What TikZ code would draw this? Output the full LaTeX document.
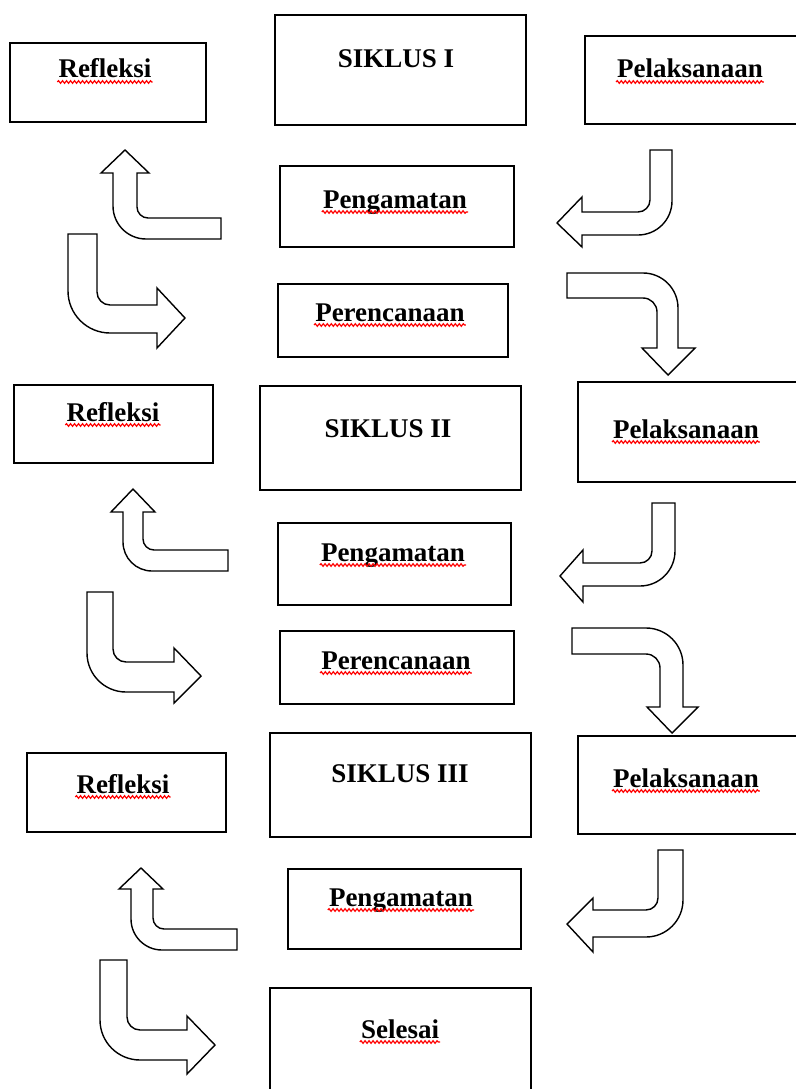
\documentclass[tikz,border=0pt]{standalone}
\usepackage{fontspec}
\setmainfont{Liberation Serif}
\usetikzlibrary{fit,decorations.pathmorphing}
\tikzset{
  box/.style={draw, line width=1.5pt, inner sep=0pt},
  arr/.style={draw, fill=white, line width=1.4pt, line join=miter},
  lbl/.style={font=\fontsize{27}{32}\selectfont\bfseries, inner sep=0pt},
  squig/.style={red, line width=1.2pt, decorate, decoration={snake, segment length=4pt, amplitude=1.3pt}}
}
\newcommand\arrU[9]{% xr yi yo xi xo yb hl hr tip
 \pgfmathsetmacro\rI{11}\pgfmathsetmacro\rO{\rI+#4-#5-2}
 \draw[arr] (#1,#2) -- (#4+\rI,#2) .. controls (#4+0.448*\rI,#2) and (#4,#2-0.448*\rI) .. (#4,#2-\rI) -- (#4,#6) -- (#8,#6) -- (#9) -- (#7,#6) -- (#5,#6) -- (#5,#3-\rO) .. controls (#5,#3-0.448*\rO) and (#5+0.448*\rO,#3) .. (#5+\rO,#3) -- (#1,#3) -- cycle;}
\newcommand\arrL[9]{% yt0 xo xi yi yo xb ht hb tip
 \pgfmathsetmacro\rI{12}\pgfmathsetmacro\rO{\rI+#2-#3}
 \draw[arr] (#3,#1) -- (#2,#1) -- (#2,#5-\rO) .. controls (#2,#5-0.448*\rO) and (#2-0.448*\rO,#5) .. (#2-\rO,#5) -- (#6,#5) -- (#6,#8) -- (#9) -- (#6,#7) -- (#6,#4) -- (#3-\rI,#4) .. controls (#3-0.448*\rI,#4) and (#3,#4-0.448*\rI) .. (#3,#4-\rI) -- cycle;}
\newcommand\arrR[9]{% yt0 xo xi yi yo xb ht hb tip
 \pgfmathsetmacro\rI{13}\pgfmathsetmacro\rO{\rI+#3-#2}
 \draw[arr] (#2,#1) -- (#3,#1) -- (#3,#4-\rI) .. controls (#3,#4-0.448*\rI) and (#3+0.448*\rI,#4) .. (#3+\rI,#4) -- (#6,#4) -- (#6,#7) -- (#9) -- (#6,#8) -- (#6,#5) -- (#2+\rO,#5) .. controls (#2+0.448*\rO,#5) and (#2,#5-0.448*\rO) .. (#2,#5-\rO) -- cycle;}
\newcommand\arrD[9]{% xl yo yi xo xi yb hl hr tip
 \pgfmathsetmacro\rI{14}\pgfmathsetmacro\rO{\rI+#4-#5}
 \draw[arr] (#1,#2) -- (#4-\rO,#2) .. controls (#4-0.448*\rO,#2) and (#4,#2+0.448*\rO) .. (#4,#2+\rO) -- (#4,#6) -- (#8,#6) -- (#9) -- (#7,#6) -- (#5,#6) -- (#5,#3+\rI) .. controls (#5,#3+0.448*\rI) and (#5-0.448*\rI,#3) .. (#5-\rI,#3) -- (#1,#3) -- cycle;}
\newcommand\boxat[5]{\node[box, fit={(#2,#3) (#4,#5)}] (#1) {};}
\newcommand\wtext[4]{%
 \node[lbl, anchor=base] (#1) at (#2,#3) {#4};
 \draw[squig] ([xshift=-1pt,yshift=-4pt]#1.base west) -- ([xshift=1pt,yshift=-4pt]#1.base east);}
\begin{document}
\begin{tikzpicture}[x=1pt,y=-1pt]
\useasboundingbox (0,0) rectangle (795,1089);
% boxes
\boxat{ref1}{10}{43}{206}{122}
\boxat{sik1}{275}{15}{526}{125}
\boxat{pel1}{585}{36}{805}{124}
\boxat{pen1}{280}{166}{514}{247}
\boxat{per1}{278}{284}{508}{357}
\boxat{ref2}{14}{385}{213}{463}
\boxat{sik2}{260}{386}{521}{490}
\boxat{pel2}{578}{382}{805}{482}
\boxat{pen2}{278}{523}{511}{605}
\boxat{per2}{280}{631}{514}{704}
\boxat{ref3}{27}{753}{226}{832}
\boxat{sik3}{270}{733}{531}{837}
\boxat{pel3}{578}{736}{805}{834}
\boxat{pen3}{288}{869}{521}{949}
\boxat{sel}{270}{988}{531}{1100}
% texts
\wtext{tref1}{105}{78}{Refleksi}
\node[lbl, anchor=base] (tsik1) at (396,68) {SIKLUS I};
\wtext{tpel1}{690}{78}{Pelaksanaan}
\wtext{tpen1}{395}{208}{Pengamatan}
\wtext{tper1}{390}{321}{Perencanaan}
\wtext{tref2}{113}{421}{Refleksi}
\node[lbl, anchor=base] (tsik2) at (388,437) {SIKLUS II};
\wtext{tpel2}{686}{438}{Pelaksanaan}
\wtext{tpen2}{393}{561}{Pengamatan}
\wtext{tper2}{396}{669}{Perencanaan}
\wtext{tref3}{123}{793}{Refleksi}
\node[lbl, anchor=base] (tsik3) at (400,782) {SIKLUS III};
\wtext{tpel3}{686}{787}{Pelaksanaan}
\wtext{tpen3}{401}{906}{Pengamatan}
\wtext{tsel}{400}{1038}{Selesai}
% arrows
\arrU{221}{218}{239}{137}{113}{173}{101}{149}{125,150}
\arrU{228}{550}{571}{143}{123}{512}{111}{155}{133,489}
\arrU{237}{929}{950}{153}{131}{889}{119}{163}{141,868}
\arrL{150}{672}{650}{212}{235}{582}{197}{247}{557,223}
\arrL{503}{675}{652}{563}{586}{583}{550}{602}{560,576}
\arrL{850}{683}{658}{910}{937}{593}{898}{952}{567,924}
\arrR{234}{68}{97}{305}{333}{157}{288}{348}{185,318}
\arrR{592}{87}{113}{662}{692}{174}{648}{703}{201,676}
\arrR{960}{100}{127}{1030}{1060}{187}{1016}{1074}{215,1045}
\arrD{567}{273}{298}{678}{657}{348}{642}{695}{668,375}
\arrD{572}{628}{654}{683}{660}{707}{647}{698}{672,733}
\end{tikzpicture}
\end{document}
